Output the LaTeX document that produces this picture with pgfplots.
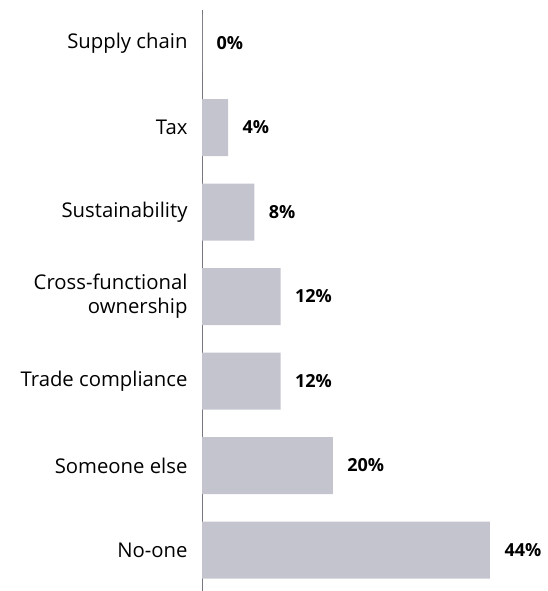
\documentclass[border=0pt]{standalone}
\usepackage{pgfplots}
\pgfplotsset{compat=1.18}
\usepackage{fontspec}
\setmainfont{Open Sans}
\definecolor{barc}{HTML}{C4C4CF}
\definecolor{axc}{HTML}{77777F}
\begin{document}
\begin{tikzpicture}[x=1pt,y=1pt]
\begin{axis}[
  at={(202pt,0pt)},
  x=6.545pt, y=84.5pt,
  xmin=0, xmax=52,
  ymin=-0.485, ymax=6.39,
  anchor=south west,
  axis line style={draw=none},
  hide x axis,
  axis y line*=left,
  y axis line style={draw=axc, line width=0.8pt},
  ytick={0,1,2,3,4,5,6},
  yticklabels={No-one,Someone else,Trade compliance,{Cross-functional\\ownership},Sustainability,Tax,Supply chain},
  yticklabel style={font=\fontsize{20.3}{24}\selectfont, align=right, text=black, xshift=-11pt},
  major tick length=0pt,
  xbar, bar width=57pt,
  bar shift=0pt,
  nodes near coords={\pgfplotspointmeta\%},
  nodes near coords style={font=\bfseries\fontsize{18}{20}\selectfont, text=black, anchor=west, xshift=11pt},
  point meta=explicit symbolic,
  clip=false,
]
\addplot[fill=barc, draw=none] coordinates {
(44,0) [44]
(20,1) [20]
(12,2) [12]
(12,3) [12]
(8,4) [8]
(4,5) [4]
(0,6) [0]
};
\end{axis}
\pgfresetboundingbox
\useasboundingbox (0,0) rectangle (547pt,591pt);
\end{tikzpicture}
\end{document}
